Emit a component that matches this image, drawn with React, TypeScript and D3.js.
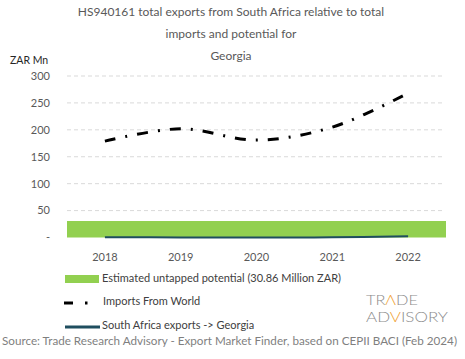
import React from 'react';
import * as d3 from 'd3';

const years = ['2018', '2019', '2020', '2021', '2022'];
const importsFromWorld = [179, 202, 181, 205, 268];
const saExports = [0.3, 0.2, 0.1, 0.4, 2.5];
const untappedPotential = 30.86;
const yTicks = [0, 50, 100, 150, 200, 250, 300];
const titleLines = [
  'HS940161 total exports from South Africa relative to total',
  'imports and potential for',
  'Georgia',
];

const W = 465;
const H = 359;
const FONT = 'Lato, "Open Sans", sans-serif';

export default function App() {
  const x = d3.scaleBand().domain(years).range([67, 446]).padding(0);
  const y = d3.scaleLinear().domain([0, 300]).range([237.5, 76]);
  const cx = (d: string) => (x(d) as number) + x.bandwidth() / 2;

  const line = d3.line<number>()
    .x((d, i) => cx(years[i]))
    .y(d => y(d))
    .curve(d3.curveCatmullRom.alpha(0.5));

  // potential drawn as a flat band over the whole plot width
  const area = d3.area<number>()
    .x(d => d)
    .y0(y(0))
    .y1(y(untappedPotential));

  return (
    <svg width={W} height={H} style={{ position: 'absolute', left: 0, top: 0, background: '#fff' }}>
      <g fontFamily={FONT}>
        {titleLines.map((t, i) => (
          <text key={i} x={231} y={16 + i * 22} textAnchor="middle" fontSize={12} fill="#595959">{t}</text>
        ))}
        <text x={10} y={64} fontSize={10.5} fill="#262626">ZAR Mn</text>

        {yTicks.map(t => (
          <g key={t}>
            {t > 0 && (
              <line x1={67} x2={443} y1={y(t)} y2={y(t)} stroke="#d9d9d9" strokeWidth={1} strokeDasharray="4,3" />
            )}
            <text x={50} y={y(t)} dy="0.35em" textAnchor="end" fontSize={11} fill="#595959">
              {t === 0 ? '-' : t}
            </text>
          </g>
        ))}

        <path d={area(x.range()) || ''} fill="#92d050" />

        <path d={line(saExports) || ''} fill="none" stroke="#1f4e5f" strokeWidth={2} />
        <path d={line(importsFromWorld) || ''} fill="none" stroke="#000" strokeWidth={3}
          strokeDasharray="11,10,2,10" />

        {years.map(yr => (
          <text key={yr} x={cx(yr)} y={261} textAnchor="middle" fontSize={11} fill="#595959">{yr}</text>
        ))}

        {/* legend */}
        <rect x={65} y={275} width={34} height={8} fill="#92d050" />
        <text x={102} y={282} fontSize={11} fill="#404040">Estimated untapped potential (30.86 Million ZAR)</text>
        <line x1={64} x2={73} y1={303} y2={303} stroke="#000" strokeWidth={3} />
        <line x1={85} x2={87.5} y1={303} y2={303} stroke="#000" strokeWidth={3} />
        <text x={103} y={305} fontSize={11} fill="#404040">Imports From World</text>
        <line x1={65} x2={100} y1={327} y2={327} stroke="#1f4e5f" strokeWidth={3} />
        <text x={102} y={329} fontSize={11} fill="#404040">South Africa exports -&gt; Georgia</text>

        {/* logo */}
        <text x={366} y={305} fontSize={13.5} fontWeight={300} fill="#8c8c8c" textLength={52} lengthAdjust="spacingAndGlyphs">
          TR<tspan fill="#f0a030">Λ</tspan>DE
        </text>
        <text x={366} y={322} fontSize={13.5} fontWeight={300} fill="#8c8c8c" textLength={82} lengthAdjust="spacingAndGlyphs">
          AD<tspan fill="#f0a030">V</tspan>ISORY
        </text>

        <text x={2} y={345} fontSize={11} fill="#7f7f7f" textLength={455} lengthAdjust="spacingAndGlyphs">
          Source: Trade Research Advisory - Export Market Finder, based on CEPII BACI (Feb 2024)
        </text>
      </g>
    </svg>
  );
}
